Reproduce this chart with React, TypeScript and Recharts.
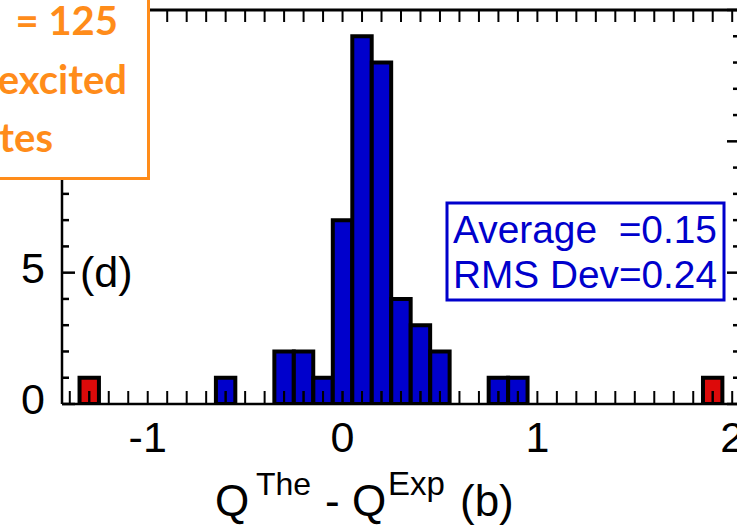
import { Bar, BarChart, XAxis, YAxis } from 'recharts'

// histogram bins (centre of each 0.1-wide bin) and counts
const binCenters = [-1.3, -0.6, -0.3, -0.2, -0.1, 0.0, 0.1, 0.2, 0.3, 0.4, 0.5, 0.8, 0.9, 1.9]
const mainCounts = [0, 1, 2, 2, 1, 7, 14, 13, 4, 3, 2, 1, 1, 0]
const outlierCounts = [1, 0, 0, 0, 0, 0, 0, 0, 0, 0, 0, 0, 0, 1]

const xTicks = [
  -1.4, -1.3, -1.2, -1.1, -1.0, -0.9, -0.8, -0.7, -0.6, -0.5, -0.4, -0.3, -0.2, -0.1,
  0.0, 0.1, 0.2, 0.3, 0.4, 0.5, 0.6, 0.7, 0.8, 0.9, 1.0, 1.1, 1.2, 1.3, 1.4, 1.5, 1.6,
  1.7, 1.8, 1.9, 2.0,
]
const xLabelTicks = [-1, 0, 1, 2]
const yTicks = [0, 1, 2, 3, 4, 5, 6, 7, 8, 9, 10, 11, 12, 13, 14, 15]
const yLabelTicks = [0, 5, 10, 15]

const statsLines = ['Average  =0.15', 'RMS Dev=0.24']
const noteLines = ['= 125', 'excited', 'states']

const data = binCenters.map((q, i) => ({
  q,
  main: mainCounts[i],
  outlier: outlierCounts[i],
}))

const FONT = '"Liberation Sans", Arial, sans-serif'
const BLUE = '#0000cc'
const RED = '#dd0a0a'
const ORANGE = '#ff8c1a'
const TICK_LEN = 13

const isOn = (list: number[], v: number) => list.some((t) => Math.abs(t - v) < 1e-6)

const BottomTick = ({ x, y, payload }: any) => (
  <g>
    <line x1={x} y1={y} x2={x} y2={y - TICK_LEN} stroke="#000" strokeWidth={2} />
    {isOn(xLabelTicks, payload.value) && (
      <text x={x} y={y + 48} textAnchor="middle" fontFamily={FONT} fontSize={43} fill="#000">
        {String(Math.round(payload.value))}
      </text>
    )}
  </g>
)

const TopTick = ({ x, y }: any) => (
  <line x1={x} y1={y} x2={x} y2={y + 12} stroke="#000" strokeWidth={2} />
)

const LeftTick = ({ x, y, payload }: any) => {
  const major = isOn(yLabelTicks, payload.value)
  return (
    <g>
      <line x1={x} y1={y} x2={x + (major ? 13 : 7)} y2={y} stroke="#000" strokeWidth={2.5} />
      {major && (
        <text x={x - 17} y={y + 10} textAnchor="end" fontFamily={FONT} fontSize={43} fill="#000">
          {payload.value}
        </text>
      )}
    </g>
  )
}

const RightTick = ({ x, y, payload }: any) => {
  const major = isOn(yLabelTicks, payload.value)
  return <line x1={x} y1={y} x2={x - (major ? 13 : 7)} y2={y} stroke="#000" strokeWidth={2.5} />
}

// bar outline plus the axis tick that shows through it in the original figure
const binShape = (props: any) => {
  const x = Number(props.x)
  const y = Number(props.y)
  const w = Number(props.width)
  const h = Number(props.height)
  if (!h || !Number.isFinite(h)) return <g />
  const top = Math.min(y, y + h)
  const base = Math.max(y, y + h)
  const cx = x + w / 2
  return (
    <g>
      <path
        d={`M${x},${base} L${x},${top} L${x + w},${top} L${x + w},${base} Z`}
        fill={props.fill}
        stroke="#000"
        strokeWidth={4}
      />
      <path d={`M${cx},${base} L${cx},${base - TICK_LEN}`} stroke="#000" strokeWidth={2} fill="none" />
    </g>
  )
}

const AxisTitle = ({ viewBox }: any) => {
  const { x, y } = viewBox
  return (
    <text y={y + 112} fontFamily={FONT} fontSize={44} fill="#000">
      <tspan x={x + 153}>Q</tspan>
      <tspan x={x + 194} y={y + 91} fontSize={32}>The</tspan>
      <tspan x={x + 263} y={y + 112}>- Q</tspan>
      <tspan x={x + 326} y={y + 91} fontSize={33}>Exp</tspan>
      <tspan x={x + 398} y={y + 112}>(b)</tspan>
    </text>
  )
}

export default function App() {
  return (
    <div style={{ position: 'absolute', left: 0, top: 0, width: 737, height: 529, overflow: 'hidden', background: '#fff' }}>
      <BarChart width={760} height={529} data={data} margin={{ top: 0, right: 0, bottom: 0, left: 0 }}>
        <Bar dataKey="main" stackId="h" barSize={19.4} fill={BLUE} shape={binShape} isAnimationActive={false} />
        <Bar dataKey="outlier" stackId="h" barSize={19.4} fill={RED} shape={binShape} isAnimationActive={false} />
        <XAxis
          dataKey="q"
          type="number"
          domain={[-1.44, 2.04]}
          allowDataOverflow
          ticks={xTicks}
          interval={0}
          height={125}
          tickSize={0}
          tickMargin={0}
          tickLine={false}
          tick={<BottomTick />}
          axisLine={{ stroke: '#000', strokeWidth: 2.5 }}
          label={<AxisTitle />}
        />
        <XAxis
          xAxisId="top"
          dataKey="q"
          orientation="top"
          type="number"
          domain={[-1.44, 2.04]}
          allowDataOverflow
          ticks={xTicks}
          interval={0}
          height={10}
          tickSize={0}
          tickMargin={0}
          tickLine={false}
          tick={<TopTick />}
          axisLine={{ stroke: '#000', strokeWidth: 3 }}
        />
        <YAxis
          type="number"
          domain={[0, 15]}
          allowDataOverflow
          ticks={yTicks}
          interval={0}
          width={62}
          tickSize={0}
          tickMargin={0}
          tickLine={false}
          tick={<LeftTick />}
          axisLine={{ stroke: '#000', strokeWidth: 2.5 }}
        />
        <YAxis
          yAxisId="right"
          orientation="right"
          type="number"
          domain={[0, 15]}
          allowDataOverflow
          ticks={yTicks}
          interval={0}
          width={20}
          tickSize={0}
          tickMargin={0}
          tickLine={false}
          tick={<RightTick />}
          axisLine={{ stroke: '#000', strokeWidth: 2.5 }}
        />
      </BarChart>

      {/* annotations drawn on top of the chart */}
      <svg width={737} height={529} style={{ position: 'absolute', left: 0, top: 0, pointerEvents: 'none' }}>
        <rect x={-10} y={-10} width={158.5} height={188.5} fill="#fff" stroke={ORANGE} strokeWidth={3} />
        {noteLines.map((line, i) => (
          <text
            key={line}
            x={[118, 127, 53][i]}
            y={35 + i * 58.5}
            textAnchor="end"
            fontFamily="Lato, 'Open Sans', sans-serif"
            fontWeight={700}
            fontSize={40}
            fill={ORANGE}
          >
            {line}
          </text>
        ))}
        <text x={80} y={287} fontFamily={FONT} fontSize={43} fill="#000">(d)</text>
        <rect x={447} y={203} width={277} height={97} fill="#fff" stroke={BLUE} strokeWidth={3} />
        {statsLines.map((line, i) => (
          <text
            key={line}
            x={453}
            y={243 + i * 45}
            textLength={264}
            lengthAdjust="spacingAndGlyphs"
            fontFamily={FONT}
            fontSize={38}
            fill={BLUE}
            style={{ whiteSpace: 'pre' }}
          >
            {line}
          </text>
        ))}
      </svg>
    </div>
  )
}
